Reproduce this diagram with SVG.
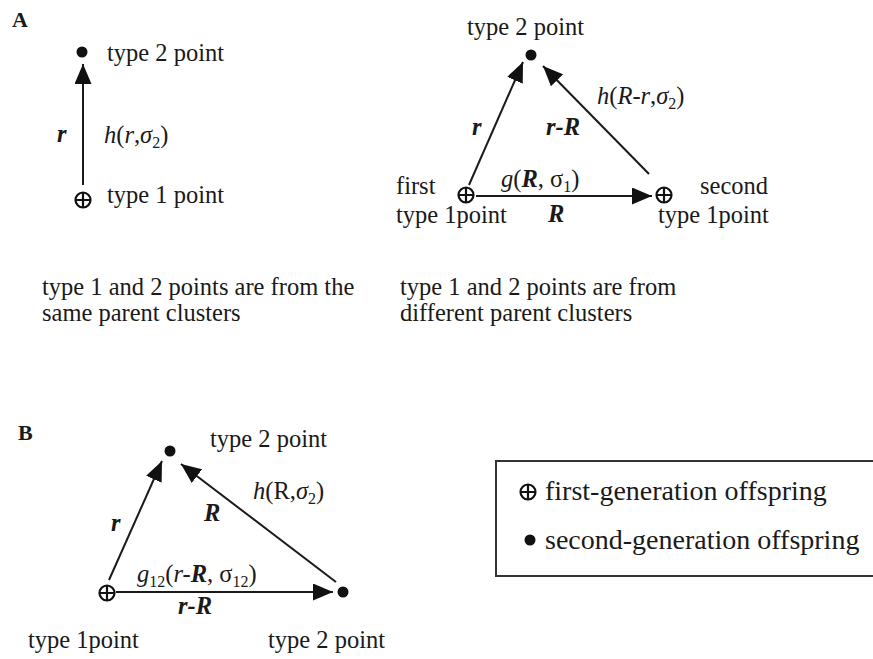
<svg xmlns="http://www.w3.org/2000/svg" width="873" height="659" viewBox="0 0 873 659">
<style>
text{font-family:"Liberation Serif","Times New Roman",serif;font-size:24.5px;fill:#1a1a1a}
.i{font-style:italic}
.bi{font-weight:bold;font-style:italic}
.sub{font-size:16px}
.lg{font-size:28px}
.hd{font-weight:bold;font-size:22px}
.edge{stroke:#1a1a1a;stroke-width:2;fill:none;marker-end:url(#ah)}
.dot{fill:#111}
</style>
<defs>
<marker id="ah" markerUnits="userSpaceOnUse" markerWidth="21" markerHeight="17" refX="20" refY="8.5" orient="auto">
<path d="M0,0 L20,8.5 L0,17 z" fill="#111"/>
</marker>
<g id="oplus"><circle r="7.5" fill="#fff" stroke="#111" stroke-width="2.2"/><path d="M-7.5,0 H7.5 M0,-7.5 V7.5" stroke="#111" stroke-width="2.2"/></g>
</defs>
<rect width="873" height="659" fill="#fff"/>
<text x="12" y="27" class="hd">A</text>
<text x="18" y="440" class="hd">B</text>
<g id="connectors">
<line class="edge" x1="83" y1="185" x2="83" y2="64"/>
<line class="edge" x1="469" y1="185" x2="523" y2="62"/>
<line class="edge" x1="649" y1="174" x2="543" y2="66"/>
<line class="edge" x1="476" y1="196" x2="652" y2="196"/>
<line class="edge" x1="109" y1="580" x2="162" y2="461"/>
<line class="edge" x1="336" y1="582" x2="181" y2="464"/>
<line class="edge" x1="116" y1="592" x2="333" y2="592"/>
</g>
<g id="a-left">
<g id="a1-type2"><circle class="dot" cx="82" cy="52" r="5.5"/><text x="107" y="61">type 2 point</text></g>
<g id="a1-type1"><use href="#oplus" x="83" y="200"/><text x="107" y="203">type 1 point</text></g>
<text x="57" y="142" class="bi">r</text>
<text x="104" y="143"><tspan class="i">h</tspan>(<tspan class="i">r</tspan>,<tspan class="i">σ</tspan><tspan class="sub" dy="5">2</tspan><tspan dy="-5">)</tspan></text>
<text x="42" y="295">type 1 and 2 points are from the</text>
<text x="42" y="321">same parent clusters</text>
</g>
<g id="a-right">
<g id="a2-type2"><circle class="dot" cx="531" cy="55" r="5.5"/><text x="467" y="35">type 2 point</text></g>
<g id="a2-first"><use href="#oplus" x="466" y="195"/><text x="396" y="194">first</text><text x="396" y="223">type 1point</text></g>
<g id="a2-second"><use href="#oplus" x="664" y="195"/><text x="700" y="194">second</text><text x="658" y="223">type 1point</text></g>
<text x="597" y="104"><tspan class="i">h</tspan>(<tspan class="i">R-r</tspan>,<tspan class="i">σ</tspan><tspan class="sub" dy="5">2</tspan><tspan dy="-5">)</tspan></text>
<text x="472" y="135" class="bi">r</text>
<text x="546" y="135" class="bi">r-R</text>
<text x="501" y="187"><tspan class="i">g</tspan>(<tspan class="bi">R</tspan>, σ<tspan class="sub" dy="5">1</tspan><tspan dy="-5">)</tspan></text>
<text x="548" y="222" class="bi">R</text>
<text x="400" y="295">type 1 and 2 points are from</text>
<text x="400" y="321">different parent clusters</text>
</g>
<g id="b">
<g id="b-type2-top"><circle class="dot" cx="170" cy="451" r="5.5"/><text x="210" y="447">type 2 point</text></g>
<g id="b-type1"><use href="#oplus" x="107" y="593"/><text x="28" y="648">type 1point</text></g>
<g id="b-type2-right"><circle class="dot" cx="343" cy="592" r="5.5"/><text x="268" y="648">type 2 point</text></g>
<text x="253" y="499"><tspan class="i">h</tspan>(R,<tspan class="i">σ</tspan><tspan class="sub" dy="5">2</tspan><tspan dy="-5">)</tspan></text>
<text x="204" y="521" class="bi">R</text>
<text x="111" y="531" class="bi">r</text>
<text x="137" y="582"><tspan class="i">g</tspan><tspan class="sub" dy="5">12</tspan><tspan dy="-5">(</tspan><tspan class="i">r-</tspan><tspan class="bi">R</tspan>, σ<tspan class="sub" dy="5">12</tspan><tspan dy="-5">)</tspan></text>
<text x="178" y="614" class="bi">r-R</text>
</g>
<g id="legend">
<rect x="496" y="461" width="400" height="115" fill="none" stroke="#333" stroke-width="2"/>
<g id="legend-first"><use href="#oplus" x="528" y="492"/><text x="545" y="500" class="lg">first-generation offspring</text></g>
<g id="legend-second"><circle class="dot" cx="530" cy="540" r="5.5"/><text x="545" y="549" class="lg">second-generation offspring</text></g>
</g>
</svg>
